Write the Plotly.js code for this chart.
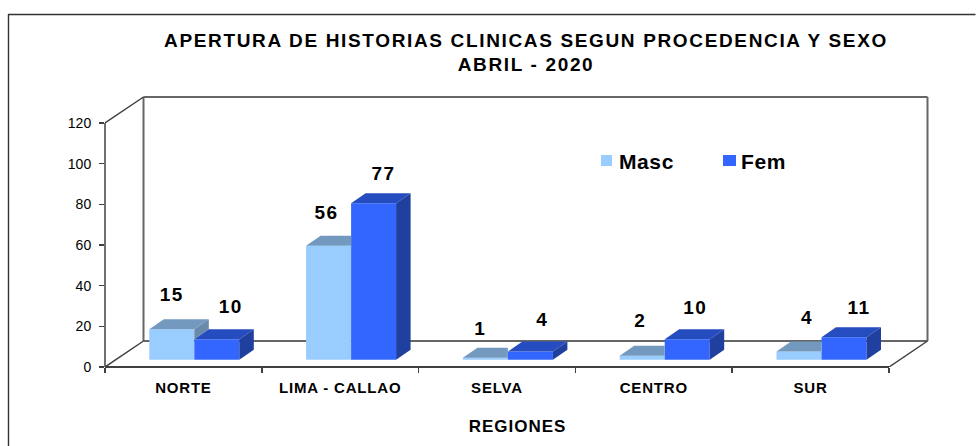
<!DOCTYPE html>
<html><head><meta charset="utf-8">
<script src="https://cdn.plot.ly/plotly-3.0.1.min.js"></script>
<style>html,body{margin:0;padding:0;background:#fff}#c{width:976px;height:446px}
.gtitle{letter-spacing:1.65px}
.xtick text{letter-spacing:.8px}
.xtitle{letter-spacing:1px}
.textpoint text{letter-spacing:1.5px}
.annotation-text{letter-spacing:.6px}
</style>
</head><body><div id="c"></div>
<script>
const regions = ['NORTE','LIMA - CALLAO','SELVA','CENTRO','SUR'];
const masc = [15,56,1,2,4];
const fem = [10,77,4,10,11];
const yTicks = [0,20,40,60,80,100,120];
const titleText = 'APERTURA DE HISTORIAS CLINICAS SEGUN PROCEDENCIA Y SEXO<br>ABRIL - 2020';
const xTitle = 'REGIONES';
// label nudges in px (x, y above the bar's front top)
const mascLabelDx = [0,-2,-5,-2,8], mascLabelDy = [33,32,27,33,32];
const femLabelDx = [14,10,12,8,15], femLabelDy = [31,28,30,30,28];

const W=976,H=446,L=105,R=928,T=90,B=367;
const catPx=156.8, unitPx=244/120;
const xu=p=>p/catPx, yu=p=>p/unitPx;
const pw=R+2-L, ph=B-T;
const paperX=p=>(p-L)/pw, paperY=p=>(B-p)/ph;

const barW=xu(45), base=yu(7.3), mascOff=xu(44.3), depthX=xu(14.5), depthY=yu(10);
const wallX=xu(38.5), wallY=yu(26);
const x0=i=>i+mascOff, x1=i=>i+mascOff+barW, x2=i=>i+mascOff+2*barW;

function polys(list){const xs=[],ys=[];list.forEach(p=>{p.forEach(q=>{xs.push(q[0]);ys.push(q[1]);});xs.push(p[0][0]);ys.push(p[0][1]);xs.push(null);ys.push(null);});return {x:xs,y:ys};}
function face(list,color){const p=polys(list);return {type:'scatter',mode:'lines',x:p.x,y:p.y,fill:'toself',fillcolor:color,line:{width:0,color:color},hoverinfo:'skip',showlegend:false};}

const mascTop=regions.map((_,i)=>{const v=masc[i]+base,a=x0(i),b=x1(i);
  return fem[i]>masc[i]?[[a,v],[b,v],[b,v+depthY],[a+depthX,v+depthY]]:[[a,v],[b,v],[b+depthX,v+depthY],[a+depthX,v+depthY]];});
const mascSide=regions.map((_,i)=>masc[i]>fem[i]?[[x1(i),masc[i]+base],[x1(i)+depthX,masc[i]+base+depthY],[x1(i)+depthX,fem[i]+base+depthY],[x1(i),fem[i]+base]]:null).filter(Boolean);
const femTop=regions.map((_,i)=>{const v=fem[i]+base,a=x1(i),b=x2(i);return [[a,v],[b,v],[b+depthX,v+depthY],[a+depthX,v+depthY]];});
const femSide=regions.map((_,i)=>{const v=fem[i]+base,b=x2(i);return [[b,base],[b+depthX,base+depthY],[b+depthX,v+depthY],[b,v]];});

const idx=regions.map((_,i)=>i);
const data=[
 {type:'bar',name:'Masc',x:idx.map(i=>x0(i)+barW/2),y:masc,base:idx.map(()=>base),width:barW,marker:{color:'#99CCFF',line:{width:0}},showlegend:false,hoverinfo:'skip'},
 {type:'bar',name:'Fem',x:idx.map(i=>x1(i)+barW/2),y:fem,base:idx.map(()=>base),width:barW,marker:{color:'#3366FF',line:{width:0}},showlegend:false,hoverinfo:'skip'},
 face(mascTop,'#7399BF'),
 face(mascSide,'#6A8AAB'),
 face(femTop,'#264DBF'),
 face(femSide,'#2040A0'),
 {type:'scatter',mode:'text',x:idx.map(i=>x0(i)+barW/2+xu(mascLabelDx[i])),y:idx.map(i=>masc[i]+base+yu(mascLabelDy[i])),text:masc.map(String),textposition:'middle center',textfont:{family:'Liberation Sans',size:19,weight:700,color:'#000'},showlegend:false,hoverinfo:'skip'},
 {type:'scatter',mode:'text',x:idx.map(i=>x1(i)+barW/2+xu(femLabelDx[i])),y:idx.map(i=>fem[i]+base+yu(femLabelDy[i])),text:fem.map(String),textposition:'middle center',textfont:{family:'Liberation Sans',size:19,weight:700,color:'#000'},showlegend:false,hoverinfo:'skip'}
];

const wall='#666666', axisC='#404040';
const ln=(x0,y0,x1,y1,c,w,extra)=>Object.assign({type:'line',xref:'x',yref:'y',x0,y0,x1,y1,line:{color:c,width:w},layer:'below'},extra||{});
const n=regions.length, yMax=yTicks[yTicks.length-1];
const shapes=[
 ln(wallX,wallY,wallX,yMax+wallY,wall,2),
 ln(wallX,yMax+wallY,n+wallX,yMax+wallY,wall,2),
 ln(n+wallX,wallY,n+wallX,yMax+wallY,wall,2),
 ln(wallX,wallY,n+wallX,wallY,wall,2),
 ln(0,yMax,wallX,yMax+wallY,axisC,1.5),
 ln(0,0,wallX,wallY,axisC,1.5),
 ln(n,0,n+wallX,wallY,axisC,1.5),
 // axis lines
 {type:'line',xref:'paper',yref:'y',x0:0,x1:0,y0:0,y1:yMax,line:{color:axisC,width:1.5},layer:'above'},
 {type:'line',xref:'x',yref:'paper',x0:0,x1:n,y0:0,y1:0,line:{color:axisC,width:2},layer:'above'},
 // chart frame
 {type:'line',xref:'paper',yref:'paper',x0:paperX(8.5),x1:paperX(8.5),y0:paperY(14),y1:paperY(446),line:{color:'#333',width:1.4}},
 {type:'line',xref:'paper',yref:'paper',x0:paperX(8),x1:paperX(975.5),y0:paperY(14.5),y1:paperY(14.5),line:{color:'#333',width:1.4}},
 // legend swatches
 {type:'rect',xref:'paper',yref:'paper',x0:paperX(601),x1:paperX(612),y0:paperY(155),y1:paperY(166),fillcolor:'#99CCFF',line:{width:0}},
 {type:'rect',xref:'paper',yref:'paper',x0:paperX(723),x1:paperX(736),y0:paperY(155),y1:paperY(166),fillcolor:'#3366FF',line:{width:0}}
];
const annotations=[
 {xref:'paper',yref:'paper',x:paperX(617),y:paperY(161),xanchor:'left',yanchor:'middle',text:'Masc',showarrow:false,font:{family:'Liberation Sans',size:21,weight:700,color:'#000'}},
 {xref:'paper',yref:'paper',x:paperX(739),y:paperY(161),xanchor:'left',yanchor:'middle',text:'Fem',showarrow:false,font:{family:'Liberation Sans',size:21,weight:700,color:'#000'}}
];
const layout={
 width:W,height:H,paper_bgcolor:'#fff',plot_bgcolor:'rgba(0,0,0,0)',showlegend:false,barmode:'overlay',
 margin:{l:L,r:W-(R+2),t:T,b:H-B,pad:0},
 title:{text:titleText,x:526/W,xanchor:'center',y:1-46.5/H,yanchor:'middle',font:{family:'Liberation Sans',size:19,weight:700,color:'#000'}},
 xaxis:{range:[0,pw/catPx],tickmode:'array',tickvals:idx.map(i=>i+0.5),ticktext:regions,ticks:'',ticklabelstandoff:10,showgrid:false,zeroline:false,showline:false,
   tickfont:{family:'Liberation Sans',size:15,weight:700,color:'#000'},
   minor:{tickmode:'array',tickvals:[0,1,2,3,4,5],ticks:'outside',ticklen:5,tickwidth:1.5,tickcolor:axisC,showgrid:false},
   title:{text:xTitle,standoff:25,font:{family:'Liberation Sans',size:17,weight:700,color:'#000'}},automargin:false},
 yaxis:{range:[0,ph/unitPx],tickmode:'array',tickvals:yTicks,ticks:'outside',ticklen:5,tickwidth:1.5,tickcolor:axisC,ticklabelstandoff:5,showgrid:false,zeroline:false,showline:false,
   tickfont:{family:'Liberation Sans',size:14,color:'#000'},automargin:false},
 shapes,annotations
};
Plotly.newPlot('c',data,layout,{displayModeBar:false,staticPlot:true});
</script></body></html>
